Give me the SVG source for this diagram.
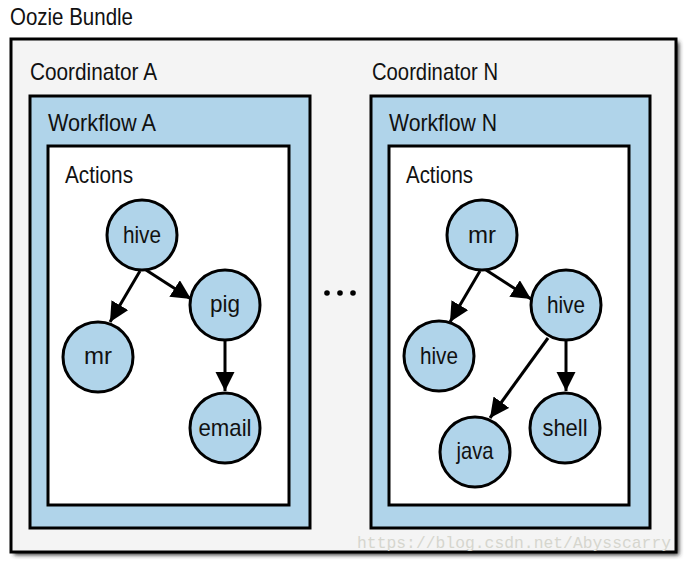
<svg xmlns="http://www.w3.org/2000/svg" width="689" height="564" viewBox="0 0 689 564">
<defs>
<filter id="sh" x="-5%" y="-5%" width="110%" height="110%">
<feGaussianBlur stdDeviation="2"/>
</filter>
<marker id="ah" viewBox="0 0 10 10" refX="10" refY="5" markerWidth="6.5" markerHeight="6.5" markerUnits="strokeWidth" orient="auto">
<path d="M0,0 L10,5 L0,10 Z" fill="#000"/>
</marker>
</defs>
<style>
.lbl{font-family:"Liberation Sans",Arial,sans-serif;font-size:24px;fill:#111}
.nd{font-family:"Liberation Sans",Arial,sans-serif;font-size:24px;fill:#111;text-anchor:middle}
.c{fill:#b0d4ea;stroke:#000;stroke-width:3}
.wf{fill:#b0d4ea;stroke:#000;stroke-width:3}
.ac{fill:#fff;stroke:#000;stroke-width:3}
.e{stroke:#000;stroke-width:3;fill:none;marker-end:url(#ah)}
</style>
<rect width="689" height="564" fill="#fff"/>
<text class="lbl" x="10" y="25" textLength="123" lengthAdjust="spacingAndGlyphs">Oozie Bundle</text>
<g id="bundle">
<rect x="14" y="42" width="665" height="513" fill="#333" filter="url(#sh)"/>
<rect x="11" y="39" width="665" height="513" fill="#f4f4f4" stroke="#000" stroke-width="3"/>
</g>
<g id="coordA">
<text class="lbl" x="30" y="80" textLength="127" lengthAdjust="spacingAndGlyphs">Coordinator A</text>
</g>
<g id="coordN">
<text class="lbl" x="372" y="80" textLength="126" lengthAdjust="spacingAndGlyphs">Coordinator N</text>
</g>
<g id="workflowA">
<rect class="wf" x="30" y="96" width="280" height="432"/>
<text class="lbl" x="48" y="131" textLength="108" lengthAdjust="spacingAndGlyphs">Workflow A</text>
</g>
<g id="workflowN">
<rect class="wf" x="371" y="96" width="279" height="432"/>
<text class="lbl" x="389" y="131" textLength="108" lengthAdjust="spacingAndGlyphs">Workflow N</text>
</g>
<g id="actionsA">
<rect class="ac" x="48" y="146" width="241" height="359"/>
<text class="lbl" x="65" y="183" textLength="68" lengthAdjust="spacingAndGlyphs">Actions</text>
</g>
<g id="actionsN">
<rect class="ac" x="389" y="146" width="240" height="359"/>
<text class="lbl" x="406" y="183" textLength="67" lengthAdjust="spacingAndGlyphs">Actions</text>
</g>
<g id="ellipsis" fill="#000">
<circle cx="327" cy="293" r="2.8"/>
<circle cx="340" cy="293" r="2.8"/>
<circle cx="353" cy="293" r="2.8"/>
</g>
<g id="connectors">
<line class="e" x1="140" y1="271" x2="110" y2="322"/>
<line class="e" x1="146" y1="270" x2="191" y2="299"/>
<line class="e" x1="225" y1="341" x2="225" y2="391"/>
<line class="e" x1="480" y1="271" x2="450" y2="322"/>
<line class="e" x1="486" y1="270" x2="531" y2="299"/>
<line class="e" x1="566" y1="341" x2="566" y2="391"/>
<line class="e" x1="548" y1="338" x2="490" y2="418"/>
</g>
<g id="a_hive"><circle class="c" cx="142" cy="235" r="35"/><text class="nd" x="142" y="243" textLength="38" lengthAdjust="spacingAndGlyphs">hive</text></g>
<g id="a_pig"><circle class="c" cx="225" cy="305" r="35"/><text class="nd" x="225" y="312" textLength="30" lengthAdjust="spacingAndGlyphs">pig</text></g>
<g id="a_mr"><circle class="c" cx="98" cy="357" r="35"/><text class="nd" x="98" y="364" textLength="28" lengthAdjust="spacingAndGlyphs">mr</text></g>
<g id="a_email"><circle class="c" cx="225" cy="428" r="35"/><text class="nd" x="225" y="436" textLength="53" lengthAdjust="spacingAndGlyphs">email</text></g>
<g id="n_mr"><circle class="c" cx="482" cy="235" r="35"/><text class="nd" x="482" y="243" textLength="28" lengthAdjust="spacingAndGlyphs">mr</text></g>
<g id="n_hive2"><circle class="c" cx="566" cy="305" r="35"/><text class="nd" x="566" y="313" textLength="38" lengthAdjust="spacingAndGlyphs">hive</text></g>
<g id="n_hive"><circle class="c" cx="439" cy="356" r="35"/><text class="nd" x="439" y="364" textLength="38" lengthAdjust="spacingAndGlyphs">hive</text></g>
<g id="n_shell"><circle class="c" cx="565" cy="428" r="35"/><text class="nd" x="565" y="436" textLength="45" lengthAdjust="spacingAndGlyphs">shell</text></g>
<g id="n_java"><circle class="c" cx="475" cy="452" r="35"/><text class="nd" x="475" y="459" textLength="37" lengthAdjust="spacingAndGlyphs">java</text></g>
<text x="357" y="548" font-family="'Liberation Mono','DejaVu Sans Mono',monospace" font-size="17" fill="#d6d6ce" textLength="314" lengthAdjust="spacingAndGlyphs">https://blog.csdn.net/Abysscarry</text>
</svg>
